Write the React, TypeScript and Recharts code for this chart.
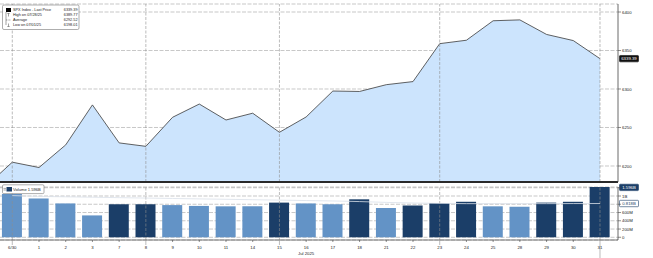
import React from 'react';
import {
  ComposedChart,
  Area,
  Bar,
  Line,
  Cell,
  XAxis,
  YAxis,
  CartesianGrid,
  ReferenceLine,
} from 'recharts';

// ---------- data ----------
const dates = ['6/30', '1', '2', '3', '7', '8', '9', '10', '11', '14', '15', '16', '17', '18', '21', '22', '23', '24', '25', '28', '29', '30', '31'];
const closes = [
  6204.95, 6198.01, 6227.42, 6279.35, 6229.98, 6225.52, 6263.26, 6280.46, 6259.75, 6268.56, 6243.76, 6263.7,
  6297.36, 6296.79, 6305.6, 6309.62, 6358.91, 6363.35, 6388.64, 6389.77, 6370.86, 6362.9, 6339.39,
];
const priorClose = 6173.07; // 6/27 close, partly visible at the left edge
const volumes = [
  1.05, 0.94, 0.82, 0.53, 0.8, 0.8, 0.78, 0.76, 0.75, 0.75, 0.84, 0.82, 0.8, 0.92, 0.71, 0.77, 0.83, 0.86, 0.75,
  0.74, 0.84, 0.86, 1.596,
]; // billions
const volumeTone = [
  'light', 'light', 'light', 'light', 'dark', 'dark', 'light', 'light', 'light', 'light', 'dark', 'light', 'light',
  'dark', 'light', 'dark', 'dark', 'dark', 'light', 'light', 'dark', 'dark', 'dark',
];
const volumeAvg = [
  1.01, 0.99, 0.98, 0.97, 0.96, 0.95, 0.94, 0.93, 0.92, 0.91, 0.9, 0.89, 0.88, 0.865, 0.845, 0.83, 0.82, 0.815,
  0.815, 0.815, 0.815, 0.817, 0.818,
];
const priceTicks = [6200, 6250, 6300, 6350, 6400];
const priceMinorTicks = [6225, 6275, 6325, 6375];
const volumeTicks = [0, 0.2, 0.4, 0.6, 0.8, 1.0, 1.2];
// 800M and 1.2B sit under the value tags in the reference, so they carry no text
const volumeTickLabels = ['0', '200M', '400M', '600M', '', '1B', ''];
const gridDates = ['6/30', '8', '15', '23', '31'];
const monthLabel = 'Jul 2025';
const monthLabelDate = '16';
const ticker = 'SPX Index';

// ---------- derived ----------
const FONT = '"Liberation Sans", Arial, sans-serif';
const X_DOMAIN: [number, number] = [-0.46, 22.674];
const PRICE_DOMAIN: [number, number] = [6179.2, 6410.4];
const VOL_DOMAIN: [number, number] = [-0.0655, 1.218];

const priceData = [{ i: -1, close: priorClose }, ...dates.map((d, i) => ({ i, date: d, close: closes[i] }))];
const volumeData = dates.map((d, i) => ({ i, date: d, volume: volumes[i], avg: volumeAvg[i], tone: volumeTone[i] }));
const indices = dates.map((_, i) => i);
const gridIdx = gridDates.map((d) => dates.indexOf(d));

const lastClose = closes[closes.length - 1];
const hiVal = Math.max(...closes);
const loVal = Math.min(...closes);
const hiDate = dates[closes.indexOf(hiVal)];
const loDate = dates[closes.indexOf(loVal)];
const avgVal = closes.reduce((a, b) => a + b, 0) / closes.length;
const fmtDate = (d: string) => (d.includes('/') ? `0${d}/25` : `07/${d.padStart(2, '0')}/25`);
const lastVol = volumes[volumes.length - 1];
const lastAvgVol = volumeAvg[volumeAvg.length - 1];

const COLORS = {
  fill: '#cce4fd',
  line: '#3a3a3a',
  light: '#6393c6',
  dark: '#1b3e68',
  grid: '#a3a3a3',
  vgrid: '#8e8e8e',
  axis: '#444',
  text: '#222',
};

const makeTag = (text: string, fill: string, textColor: string, stroke: string) => (props: any) => {
  const vb = props.viewBox || {};
  const x = (vb.x || 0) + (vb.width || 0) + 1.5;
  const y = vb.y || 0;
  return (
    <g>
      <rect x={x} y={y - 3.2} width={19} height={6.4} rx={0.8} fill={fill} stroke={stroke} strokeWidth={0.6} />
      <text x={x + 9.5} y={y} dy="0.35em" textAnchor="middle" fontSize={4.3} fill={textColor} fontFamily={FONT}>
        {text}
      </text>
    </g>
  );
};

const DateTick = (props: any) => {
  const { x, y, payload } = props;
  const i = payload.value as number;
  const label = dates[i];
  if (label === undefined) return null;
  const isGrid = gridIdx.includes(i);
  const isLast = i === dates.length - 1;
  const len = isLast ? 18 : isGrid ? 5 : 2;
  return (
    <g>
      <line x1={x} x2={x} y1={y} y2={y + len} stroke={isGrid ? COLORS.vgrid : COLORS.axis} strokeWidth={0.6} />
      <text x={x} y={y + 8.5} textAnchor="middle" fontSize={4.3} fill={COLORS.text} fontFamily={FONT}>
        {label}
      </text>
      {label === monthLabelDate && (
        <text x={x} y={y + 14.5} textAnchor="middle" fontSize={4.3} fill={COLORS.text} fontFamily={FONT}>
          {monthLabel}
        </text>
      )}
    </g>
  );
};

const PriceLegend = () => {
  const rows = [
    { label: `${ticker} - Last Price`, value: lastClose.toFixed(2) },
    { label: `High on ${fmtDate(hiDate)}`, value: hiVal.toFixed(2) },
    { label: 'Average', value: avgVal.toFixed(2) },
    { label: `Low on ${fmtDate(loDate)}`, value: loVal.toFixed(2) },
  ];
  const ys = [10, 15, 20, 25];
  return (
    <svg width={90} height={34} style={{ position: 'absolute', left: 0, top: 0 }}>
      <rect x={2.5} y={5} width={76.5} height={24.5} rx={1.5} fill="#fff" stroke="#777" strokeWidth={0.6} />
      <rect x={6} y={8} width={5} height={4} fill="#000" />
      <line x1={6} x2={6} y1={12} y2={25} stroke="#444" strokeWidth={0.5} />
      <line x1={8.5} x2={8.5} y1={13.5} y2={16.5} stroke="#444" strokeWidth={0.5} />
      <line x1={7.3} x2={9.7} y1={13.5} y2={13.5} stroke="#444" strokeWidth={0.5} />
      <line x1={6} x2={11} y1={20} y2={20} stroke="#444" strokeWidth={0.5} strokeDasharray="1 0.6" />
      <line x1={8.5} x2={8.5} y1={23.5} y2={26.5} stroke="#444" strokeWidth={0.5} />
      <line x1={7.3} x2={9.7} y1={26.5} y2={26.5} stroke="#444" strokeWidth={0.5} />
      {rows.map((r, k) => (
        <g key={k}>
          <text x={13} y={ys[k]} dy="0.35em" fontSize={3.8} fill="#222" fontFamily={FONT}>
            {r.label}
          </text>
          <text x={77.5} y={ys[k]} dy="0.35em" fontSize={3.8} fill="#222" fontFamily={FONT} textAnchor="end">
            {r.value}
          </text>
        </g>
      ))}
    </svg>
  );
};

const VolumeLegend = () => (
  <svg width={50} height={12} style={{ position: 'absolute', left: 0, top: 183 }}>
    <rect x={2.5} y={1.8} width={41.5} height={8.8} rx={1.2} fill="#fff" stroke="#777" strokeWidth={0.6} />
    <line x1={3.5} x2={6} y1={5.4} y2={5.4} stroke="#555" strokeWidth={0.5} />
    <line x1={3.5} x2={6} y1={7} y2={7} stroke="#555" strokeWidth={0.5} />
    <rect x={6.5} y={4} width={5.5} height={4.5} fill={COLORS.dark} />
    <text x={13} y={6.3} dy="0.35em" fontSize={4.1} fill="#222" fontFamily={FONT}>
      {`Volume ${lastVol.toFixed(3)}B`}
    </text>
  </svg>
);

export default function App() {
  return (
    <div style={{ position: 'absolute', left: 0, top: 0, width: 653, height: 258, background: '#fff', overflow: 'hidden' }}>
      <div style={{ position: 'absolute', left: 0, top: 0 }}>
        <ComposedChart width={653} height={184} data={priceData} margin={{ top: 4, right: 0, bottom: 0, left: 0 }}>
          <CartesianGrid vertical={false} stroke={COLORS.grid} strokeDasharray="4 1.5" strokeWidth={0.6} />
          <XAxis
            dataKey="i"
            type="number"
            domain={X_DOMAIN}
            allowDataOverflow
            ticks={[]}
            tick={false}
            tickLine={false}
            height={2}
            axisLine={{ stroke: '#2a2a2a', strokeWidth: 2 }}
          />
          <YAxis
            yAxisId="minor"
            orientation="right"
            width={0}
            domain={PRICE_DOMAIN}
            allowDataOverflow
            ticks={priceMinorTicks}
            tick={false}
            tickSize={1.5}
            tickLine={{ stroke: COLORS.axis, strokeWidth: 0.6 }}
            axisLine={false}
          />
          <YAxis
            orientation="right"
            width={35}
            domain={PRICE_DOMAIN}
            allowDataOverflow
            ticks={priceTicks}
            interval={0}
            tickSize={3}
            tickMargin={1}
            axisLine={{ stroke: COLORS.axis, strokeWidth: 0.8 }}
            tickLine={{ stroke: COLORS.axis, strokeWidth: 0.6 }}
            tick={{ fontSize: 4.3, fill: COLORS.text, fontFamily: FONT }}
          />
          {gridIdx.map((i) => (
            <ReferenceLine key={`v${i}`} x={i} stroke={COLORS.vgrid} strokeDasharray="3 1.5" strokeWidth={0.6} />
          ))}
          <Area
            type="linear"
            dataKey="close"
            stroke={COLORS.line}
            strokeWidth={0.8}
            fill={COLORS.fill}
            fillOpacity={1}
            dot={false}
            activeDot={false}
            isAnimationActive={false}
          />
          <ReferenceLine
            y={lastClose}
            stroke="none"
            label={makeTag(lastClose.toFixed(2), '#111', '#fff', '#111')}
          />
        </ComposedChart>
      </div>
      <div style={{ position: 'absolute', left: 0, top: 183 }}>
        <ComposedChart width={653} height={75} data={volumeData} margin={{ top: 4, right: 0, bottom: 0, left: 0 }}>
          <CartesianGrid vertical={false} stroke={COLORS.grid} strokeDasharray="4 1.5" strokeWidth={0.6} />
          <XAxis
            dataKey="i"
            type="number"
            domain={X_DOMAIN}
            allowDataOverflow
            ticks={indices}
            interval={0}
            height={18}
            tickSize={0}
            tickMargin={0}
            tickLine={false}
            axisLine={{ stroke: '#555', strokeWidth: 0.8 }}
            tick={<DateTick />}
          />
          <YAxis
            orientation="right"
            width={35}
            domain={VOL_DOMAIN}
            allowDataOverflow
            ticks={volumeTicks}
            interval={0}
            tickSize={3}
            tickMargin={1}
            tickFormatter={(v: number) => volumeTickLabels[volumeTicks.indexOf(v)] ?? ''}
            axisLine={{ stroke: COLORS.axis, strokeWidth: 0.8 }}
            tickLine={{ stroke: COLORS.axis, strokeWidth: 0.6 }}
            tick={{ fontSize: 4.3, fill: COLORS.text, fontFamily: FONT }}
          />
          {gridIdx.map((i) => (
            <ReferenceLine key={`bv${i}`} x={i} stroke={COLORS.vgrid} strokeDasharray="3 1.5" strokeWidth={0.6} />
          ))}
          <Bar dataKey="volume" barSize={20} isAnimationActive={false}>
            {volumeData.map((d, k) => (
              <Cell key={k} fill={d.tone === 'dark' ? COLORS.dark : COLORS.light} />
            ))}
          </Bar>
          <Line
            type="linear"
            dataKey="avg"
            stroke="#d9e0e8"
            strokeWidth={0.8}
            dot={false}
            activeDot={false}
            isAnimationActive={false}
          />
          <ReferenceLine
            y={Math.min(lastVol, VOL_DOMAIN[1] - 0.01)}
            stroke="none"
            label={makeTag(`${lastVol.toFixed(3)}B`, COLORS.dark, '#fff', COLORS.dark)}
          />
          <ReferenceLine
            y={lastAvgVol}
            stroke="none"
            label={makeTag(`${lastAvgVol.toFixed(3)}B`, '#fff', COLORS.dark, COLORS.dark)}
          />
        </ComposedChart>
      </div>
      <PriceLegend />
      <VolumeLegend />
    </div>
  );
}
